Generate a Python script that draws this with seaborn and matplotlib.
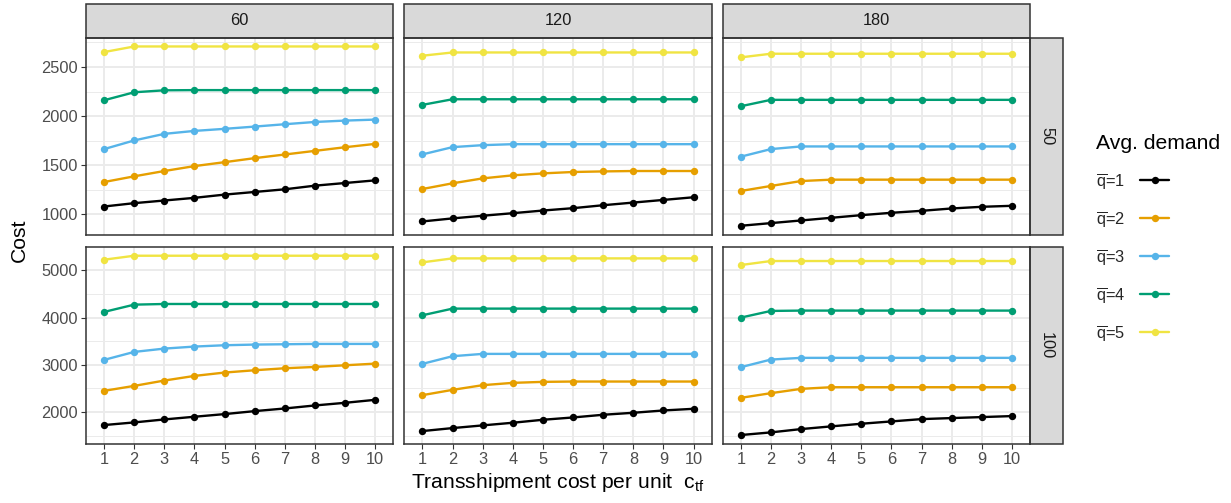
"""Transshipment cost sweep: total cost by average demand, faceted 3x2."""
import matplotlib
matplotlib.use("Agg")
import matplotlib.pyplot as plt
import matplotlib.patches as mpatches
from matplotlib.lines import Line2D
from matplotlib.ticker import MultipleLocator
import seaborn as sns
import pandas as pd

OUTPUT_PATH = "out.png"

UNIT_COST = list(range(1, 11))
COL_LEVELS = [60, 120, 180]
ROW_LEVELS = [50, 100]
DEMAND_LABELS = [r"$\overline{\mathrm{q}}$=%d" % k for k in range(1, 6)]
COLORS = ["#000000", "#E69F00", "#56B4E9", "#009E73", "#F0E442"]

# one list per average demand level (q=1 .. q=5), columns c_tf = 1..10
cost_60_50 = [
    [1081, 1115, 1142, 1169, 1202, 1229, 1256, 1293, 1320, 1347],
    [1330, 1388, 1442, 1492, 1532, 1573, 1610, 1647, 1684, 1718],
    [1665, 1753, 1820, 1850, 1871, 1894, 1918, 1941, 1955, 1965],
    [2162, 2243, 2263, 2265, 2265, 2265, 2265, 2265, 2265, 2265],
    [2652, 2709, 2709, 2709, 2709, 2709, 2709, 2709, 2709, 2709],
]
cost_120_50 = [
    [929, 960, 987, 1013, 1040, 1064, 1094, 1121, 1148, 1175],
    [1259, 1317, 1367, 1398, 1418, 1432, 1438, 1442, 1442, 1442],
    [1611, 1685, 1705, 1715, 1715, 1715, 1715, 1715, 1715, 1715],
    [2115, 2172, 2172, 2172, 2172, 2172, 2172, 2172, 2172, 2172],
    [2615, 2648, 2648, 2648, 2648, 2648, 2648, 2648, 2648, 2648],
]
cost_180_50 = [
    [885, 912, 939, 966, 993, 1017, 1037, 1061, 1078, 1088],
    [1239, 1290, 1340, 1354, 1354, 1354, 1354, 1354, 1354, 1354],
    [1588, 1665, 1692, 1692, 1692, 1692, 1692, 1692, 1692, 1692],
    [2101, 2166, 2166, 2166, 2166, 2166, 2166, 2166, 2166, 2166],
    [2598, 2635, 2635, 2635, 2635, 2635, 2635, 2635, 2635, 2635],
]
cost_60_100 = [
    [1726, 1782, 1845, 1902, 1958, 2021, 2077, 2141, 2197, 2260],
    [2450, 2555, 2668, 2766, 2837, 2886, 2928, 2956, 2991, 3026],
    [3105, 3274, 3344, 3387, 3415, 3429, 3436, 3443, 3443, 3443],
    [4120, 4274, 4288, 4288, 4288, 4288, 4288, 4288, 4288, 4288],
    [5225, 5309, 5309, 5309, 5309, 5309, 5309, 5309, 5309, 5309],
]
cost_120_100 = [
    [1599, 1662, 1719, 1775, 1838, 1887, 1944, 1986, 2035, 2070],
    [2359, 2471, 2570, 2619, 2640, 2647, 2647, 2647, 2647, 2647],
    [3021, 3183, 3232, 3232, 3232, 3232, 3232, 3232, 3232, 3232],
    [4049, 4190, 4190, 4190, 4190, 4190, 4190, 4190, 4190, 4190],
    [5169, 5253, 5253, 5253, 5253, 5253, 5253, 5253, 5253, 5253],
]
cost_180_100 = [
    [1515, 1571, 1641, 1698, 1754, 1803, 1852, 1874, 1895, 1916],
    [2302, 2401, 2492, 2527, 2527, 2527, 2527, 2527, 2527, 2527],
    [2951, 3112, 3148, 3148, 3148, 3148, 3148, 3148, 3148, 3148],
    [4000, 4141, 4148, 4148, 4148, 4148, 4148, 4148, 4148, 4148],
    [5112, 5197, 5197, 5197, 5197, 5197, 5197, 5197, 5197, 5197],
]

PANELS = {
    (60, 50): cost_60_50, (120, 50): cost_120_50, (180, 50): cost_180_50,
    (60, 100): cost_60_100, (120, 100): cost_120_100, (180, 100): cost_180_100,
}

W, H = 1231, 503
STRIP_FILL = "#D9D9D9"
DARK = "#333333"
SMALL = 11.8
BIG = 15.2


def make_frame():
    rows = []
    for (c, r), series in PANELS.items():
        for label, values in zip(DEMAND_LABELS, series):
            for x, y in zip(UNIT_COST, values):
                rows.append({"col": c, "row": r, "demand": label, "ctf": x, "cost": y})
    return pd.DataFrame(rows)


def build(df):
    sns.set_theme(style="white")
    plt.rcParams["font.family"] = ["Liberation Sans", "DejaVu Sans"]
    plt.rcParams["mathtext.fontset"] = "custom"
    plt.rcParams["mathtext.rm"] = "Liberation Sans"
    plt.rcParams["mathtext.it"] = "Liberation Sans:italic"

    g = sns.relplot(
        data=df, x="ctf", y="cost", hue="demand", col="col", row="row",
        kind="line", marker="o", hue_order=DEMAND_LABELS, palette=COLORS,
        col_order=COL_LEVELS, row_order=ROW_LEVELS, errorbar=None,
        linewidth=1.7, markersize=5.3, markeredgewidth=0, legend=False,
        facet_kws={"sharey": "row", "sharex": True}, height=2, aspect=1.5,
    )
    fig = g.figure
    fig.set_size_inches(W / 100, H / 100)
    fig.subplots_adjust(left=86 / W, right=1030 / W, top=1 - 37.5 / H,
                        bottom=1 - 444 / H, wspace=0.036, hspace=0.061)

    for i, r in enumerate(ROW_LEVELS):
        sub = df[df["row"] == r]["cost"]
        lo, hi = sub.min(), sub.max()
        pad = 0.05 * (hi - lo)
        step = 500 if i == 0 else 1000
        for j, c in enumerate(COL_LEVELS):
            ax = g.axes[i, j]
            ax.set_title("")
            ax.set_xlabel("")
            ax.set_ylabel("")
            ax.set_xlim(0.4, 10.6)
            ax.set_ylim(lo - pad, hi + pad)
            ax.set_xticks(UNIT_COST)
            ax.yaxis.set_major_locator(MultipleLocator(step))
            ax.yaxis.set_minor_locator(MultipleLocator(step / 2))
            ax.grid(True, which="major", color="#EBEBEB", linewidth=1.4)
            ax.grid(True, which="minor", axis="y", color="#EBEBEB", linewidth=0.7)
            ax.set_axisbelow(True)
            for s in ax.spines.values():
                s.set_visible(True)
                s.set_color(DARK)
                s.set_linewidth(1.1)
            ax.tick_params(which="major", direction="out", length=3.6, width=0.8,
                           color=DARK, labelcolor="#4D4D4D", labelsize=SMALL, pad=2.2)
            ax.tick_params(which="minor", length=0)
            ax.tick_params(axis="y", left=(j == 0), labelleft=(j == 0))
            ax.tick_params(axis="x", bottom=(i == 1), labelbottom=(i == 1))

            bb = ax.get_position()
            pw, ph = bb.width * W, bb.height * H
            if i == 0:
                sh = 33.5 / ph
                ax.add_patch(mpatches.Rectangle((0, 1), 1, sh, transform=ax.transAxes,
                                                clip_on=False, facecolor=STRIP_FILL,
                                                edgecolor=DARK, linewidth=1.1))
                ax.text(0.5, 1 + sh / 2, str(c), transform=ax.transAxes, ha="center",
                        va="center", fontsize=SMALL, color="#1A1A1A")
            if j == 2:
                sw = 33 / pw
                ax.add_patch(mpatches.Rectangle((1, 0), sw, 1, transform=ax.transAxes,
                                                clip_on=False, facecolor=STRIP_FILL,
                                                edgecolor=DARK, linewidth=1.1))
                ax.text(1 + sw / 2, 0.5, str(r), transform=ax.transAxes, ha="center",
                        va="center", rotation=-90, fontsize=SMALL, color="#1A1A1A")

    fig.text(19 / W, 1 - 240.5 / H, "Cost", rotation=90, ha="center", va="center",
             fontsize=BIG, color="black")
    fig.text(558 / W, 1 - 483 / H, r"Transshipment cost per unit  $\mathrm{c}_{\mathrm{tf}}$",
             ha="center", va="center", fontsize=BIG, color="black")

    handles = [Line2D([], [], color=col, marker="o", linewidth=1.7, markersize=5.3,
                      markeredgewidth=0) for col in COLORS]
    leg = fig.legend(handles, DEMAND_LABELS, title="Avg. demand", loc="upper left",
                     bbox_to_anchor=(1081 / W, 1 - 119 / H), frameon=False,
                     markerfirst=False, fontsize=SMALL, title_fontsize=BIG,
                     labelspacing=1.1, handlelength=1.8, handletextpad=0.9,
                     alignment="left")
    leg.get_title().set_color("black")

    fig.savefig(OUTPUT_PATH, dpi=100)
    plt.close(fig)
    print(f"Saved: {OUTPUT_PATH}")


if __name__ == "__main__":
    build(make_frame())
